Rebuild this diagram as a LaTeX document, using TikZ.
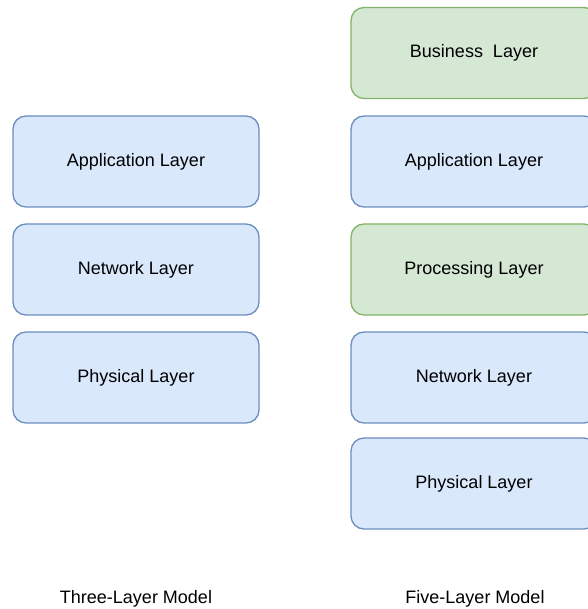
\documentclass[tikz,border=0pt]{standalone}
\usepackage{fontspec}
\setmainfont{Liberation Sans}
\definecolor{bluefill}{HTML}{DAE8FC}
\definecolor{bluedraw}{HTML}{6C8EBF}
\definecolor{greenfill}{HTML}{D5E8D4}
\definecolor{greendraw}{HTML}{82B366}

\tikzset{
  layer/.style={draw=bluedraw,fill=bluefill,rounded corners=13pt,line width=1.3pt,
    minimum width=246pt,minimum height=91pt,inner sep=0pt,
    font=\fontsize{18}{21}\selectfont},
  extra/.style={layer,draw=greendraw,fill=greenfill},
  caption/.style={font=\fontsize{18}{21}\selectfont}
}

\begin{document}
\begin{tikzpicture}[x=1pt,y=-1pt]
            \useasboundingbox (0,0) rectangle (587,609);
            % three-layer stack
            \node[layer] (app3) at (136,161.5) {Application Layer};
            \node[layer] (net3) at (136,269.5) {Network Layer};
            \node[layer] (phy3) at (136,377.5) {Physical Layer};
            % five-layer stack
            \node[extra] (bus5) at (474,53) {Business\ \ Layer};
            \node[layer] (app5) at (474,161.5) {Application Layer};
            \node[extra] (pro5) at (474,269.5) {Processing Layer};
            \node[layer] (net5) at (474,377.5) {Network Layer};
            \node[layer] (phy5) at (474,483.5) {Physical Layer};
            % captions
            \node[caption] (three) at (136,599) {Three-Layer Model};
            \node[caption] (five) at (475,599) {Five-Layer Model};
             \end{tikzpicture}
\end{document}
